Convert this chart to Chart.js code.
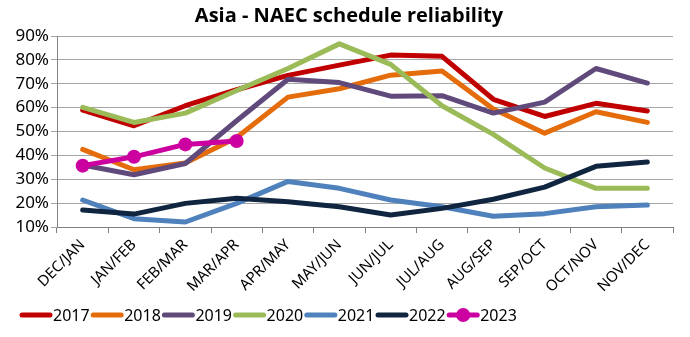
<!DOCTYPE html>
<html><head><meta charset="utf-8">
<script src="https://cdn.jsdelivr.net/npm/chart.js@4"></script>
<style>html,body{margin:0;padding:0;background:#fff}#wrap{width:690px;height:337px}</style>
</head><body><div id="wrap"><canvas id="c" width="690" height="337"></canvas></div>
<script>
const categories = ["DEC/JAN","JAN/FEB","FEB/MAR","MAR/APR","APR/MAY","MAY/JUN","JUN/JUL","JUL/AUG","AUG/SEP","SEP/OCT","OCT/NOV","NOV/DEC"];
const y2017 = [59, 52.4, 60.8, 67.5, 73.5, 77.8, 82, 81.5, 63.5, 56.3, 61.8, 58.6];
const y2018 = [42.5, 34, 36.8, 47.5, 64.4, 67.9, 73.6, 75.3, 59.4, 49.3, 58.3, 53.8];
const y2019 = [36, 31.9, 36.6, 54.5, 71.9, 70.5, 64.8, 65, 57.7, 62.3, 76.4, 70.3];
const y2020 = [60.1, 53.8, 57.7, 67.2, 76.4, 86.7, 78.1, 60.8, 48.8, 34.7, 26.2, 26.2];
const y2021 = [21.3, 13.5, 12.1, 19.9, 29.1, 26.2, 21.3, 18.5, 14.5, 15.6, 18.5, 19.2];
const y2022 = [17.1, 15.4, 19.9, 22, 20.6, 18.5, 15, 17.8, 21.6, 26.7, 35.4, 37.2];
const y2023 = [35.7, 39.4, 44.6, 46];
const seriesNames = ["2017","2018","2019","2020","2021","2022","2023"];
const yTicks = [10,20,30,40,50,60,70,80,90];
const titleText = "Asia - NAEC schedule reliability";

const colors = ["#C00000","#E46C0A","#604A7B","#9BBB59","#4F81BD","#10253F","#CC00A0"];
const allData = [y2017,y2018,y2019,y2020,y2021,y2022,y2023];
const FONT = "'Noto Sans',sans-serif";

const datasets = allData.map((d,i)=>({
  label: seriesNames[i],
  data: d,
  borderColor: colors[i],
  backgroundColor: colors[i],
  borderWidth: 5,
  pointRadius: i===6 ? 7 : 0,
  pointHoverRadius: 0,
  pointBorderWidth: 0,
  tension: 0,
  borderCapStyle: 'round',
  borderJoinStyle: 'round',
  fill: false,
  order: 7-i
}));

const customDraw = {
  id: 'customDraw',
  afterDraw(chart) {
    const ctx = chart.ctx;
    ctx.save();
    ctx.fillStyle = '#000';
    ctx.font = "bold 20px 'Open Sans','Noto Sans',sans-serif";
    ctx.textAlign = 'center';
    ctx.textBaseline = 'middle';
    ctx.fillText(titleText, 349, 16);
    // legend
    const startX = 20, step = 71.2, ly = 315;
    ctx.font = "16px " + FONT;
    ctx.textAlign = 'left';
    chart.data.datasets.forEach((ds,i)=>{
      const x = startX + i*step;
      ctx.strokeStyle = ds.borderColor;
      ctx.lineWidth = 5;
      ctx.lineCap = 'round';
      ctx.beginPath(); ctx.moveTo(x+2, ly); ctx.lineTo(x+30, ly); ctx.stroke();
      if (ds.pointRadius > 0) {
        ctx.fillStyle = ds.backgroundColor;
        ctx.beginPath(); ctx.arc(x+16, ly, 7, 0, Math.PI*2); ctx.fill();
      }
      ctx.fillStyle = '#000';
      ctx.fillText(ds.label, x+33, ly+1);
    });
    ctx.restore();
  }
};

new Chart(document.getElementById('c'), {
  type: 'line',
  data: { labels: categories, datasets },
  options: {
    responsive: false,
    animation: false,
    devicePixelRatio: 1,
    layout: { padding: { top: 36, right: 17, left: 0, bottom: 34 } },
    plugins: { legend: { display: false }, title: { display: false }, tooltip: { enabled: false } },
    scales: {
      x: {
        offset: true,
        grid: { display: true, drawOnChartArea: false, offset: true, color: '#808080', tickLength: 6, tickColor: '#808080' },
        border: { color: '#808080', width: 1 },
        ticks: { maxRotation: 45, minRotation: 45, color: '#000', font: { family: FONT, size: 15 }, padding: 3, autoSkip: false },
        afterFit(s) { s.height = 76; }
      },
      y: {
        min: 10, max: 90,
        afterBuildTicks(s) { s.ticks = yTicks.map(v=>({value:v})); },
        grid: { color: '#a6a6a6', lineWidth: 1, tickLength: 6, tickColor: '#a6a6a6' },
        border: { color: '#808080', width: 1 },
        ticks: { color: '#000', font: { family: FONT, size: 17 }, padding: 2, callback: v => v + '%' },
        afterFit(s) { s.width = 57; }
      }
    }
  },
  plugins: [customDraw]
});
</script>
</body></html>
